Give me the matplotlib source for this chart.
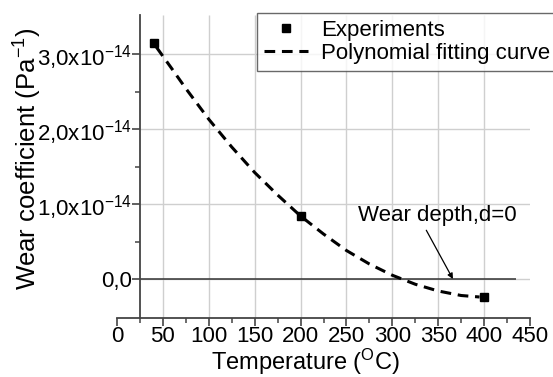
import matplotlib
matplotlib.use('Agg')
import matplotlib.pyplot as plt
from matplotlib.ticker import MultipleLocator, FixedLocator, FixedFormatter

plt.rcParams['font.family'] = ['Liberation Sans', 'DejaVu Sans']
plt.rcParams['mathtext.fontset'] = 'custom'
plt.rcParams['mathtext.rm'] = 'Liberation Sans'
plt.rcParams['mathtext.it'] = 'Liberation Sans'
plt.rcParams['mathtext.default'] = 'regular'

# experiment points (temperature in C, wear coefficient in Pa^-1)
exp_temp = [40, 200, 400]
exp_wear = [3.15e-14, 0.84e-14, -0.24e-14]

# polynomial fitting curve
fit_temp = [43, 60, 75, 100, 125, 150, 175, 200, 225, 250, 275, 300, 325, 350, 375, 395]
fit_wear = [3.09e-14, 2.80e-14, 2.54e-14, 2.13e-14, 1.76e-14, 1.42e-14, 1.12e-14,
            0.84e-14, 0.60e-14, 0.38e-14, 0.20e-14, 0.05e-14, -0.07e-14, -0.16e-14,
            -0.22e-14, -0.24e-14]

yticks = [0, 1e-14, 2e-14, 3e-14]
ytick_labels = ['0,0', '1,0x10$^{-14}$', '2,0x10$^{-14}$', '3,0x10$^{-14}$']
xticks = [0, 50, 100, 150, 200, 250, 300, 350, 400, 450]
grid_x = [50, 100, 150, 200, 250, 300, 350, 400]

axis_col = '#444444'
grid_col = '#cfcfcf'

fig = plt.figure(figsize=(5.53, 3.77), dpi=100)
ax = fig.add_axes([117/553, 1 - 318/377, (530 - 117)/553, (318 - 15)/377])
ax.set_xlim(0, 450)
ax.set_ylim(-0.52e-14, 3.52e-14)

# grid
ax.vlines(grid_x, -0.52e-14, 3.52e-14, color=grid_col, lw=1, zorder=0)
ax.hlines(yticks, 25, 450, color=grid_col, lw=1, zorder=0)
ax.hlines(0, 25, 435, color='#333333', lw=1.1, zorder=1)

ax.plot(fit_temp, fit_wear, '--', color='black', lw=2.2, dashes=(3.5, 2.2),
        label='Polynomial fitting curve', zorder=3)
ax.plot(exp_temp, exp_wear, 's', color='black', ms=6, ls='none',
        label='Experiments', zorder=4)

# Origin-like axes
for s in ['top', 'right']:
    ax.spines[s].set_visible(False)
ax.spines['left'].set_position(('data', 25))
ax.spines['left'].set_color(axis_col)
ax.spines['bottom'].set_color(axis_col)
ax.spines['left'].set_linewidth(1.3)
ax.spines['bottom'].set_linewidth(1.3)

ax.xaxis.set_major_locator(FixedLocator(xticks))
ax.xaxis.set_minor_locator(MultipleLocator(25))
ax.yaxis.set_major_locator(FixedLocator(yticks))
ax.yaxis.set_major_formatter(FixedFormatter(ytick_labels))
ax.yaxis.set_minor_locator(FixedLocator([0.5e-14, 1.5e-14, 2.5e-14]))
ax.tick_params(which='major', direction='out', length=5.5, width=1.2, color=axis_col,
               labelsize=16, pad=0.5)
ax.tick_params(which='minor', direction='out', length=3.5, width=1.1, color=axis_col)

fig.text(305/553, 0, 'Temperature ($^{O}$C)', fontsize=17,
         ha='center', va='bottom')
fig.text(28/553, 1 - 159/377, 'Wear coefficient (Pa$^{-1}$)', fontsize=18.5,
         rotation=90, ha='center', va='center')

ax.text(349, 0.85e-14, 'Wear depth,d=0', fontsize=16, ha='center', va='center')
ax.annotate('', xy=(366, 0), xytext=(337, 0.65e-14),
            arrowprops=dict(arrowstyle='-|>', color='black', lw=0.9,
                            shrinkA=0, shrinkB=0, mutation_scale=8))

handles, labels = ax.get_legend_handles_labels()
leg = fig.legend(handles[::-1], labels[::-1], loc='upper left',
                 bbox_to_anchor=(257/553, 1 - 13/377), fontsize=16,
                 frameon=True, fancybox=False, numpoints=1, handlelength=2.0,
                 handletextpad=0.6, borderpad=0.3, labelspacing=0.1,
                 borderaxespad=0)
leg.get_frame().set_edgecolor(axis_col)
leg.get_frame().set_linewidth(1.0)

fig.savefig('out.png', dpi=100)
